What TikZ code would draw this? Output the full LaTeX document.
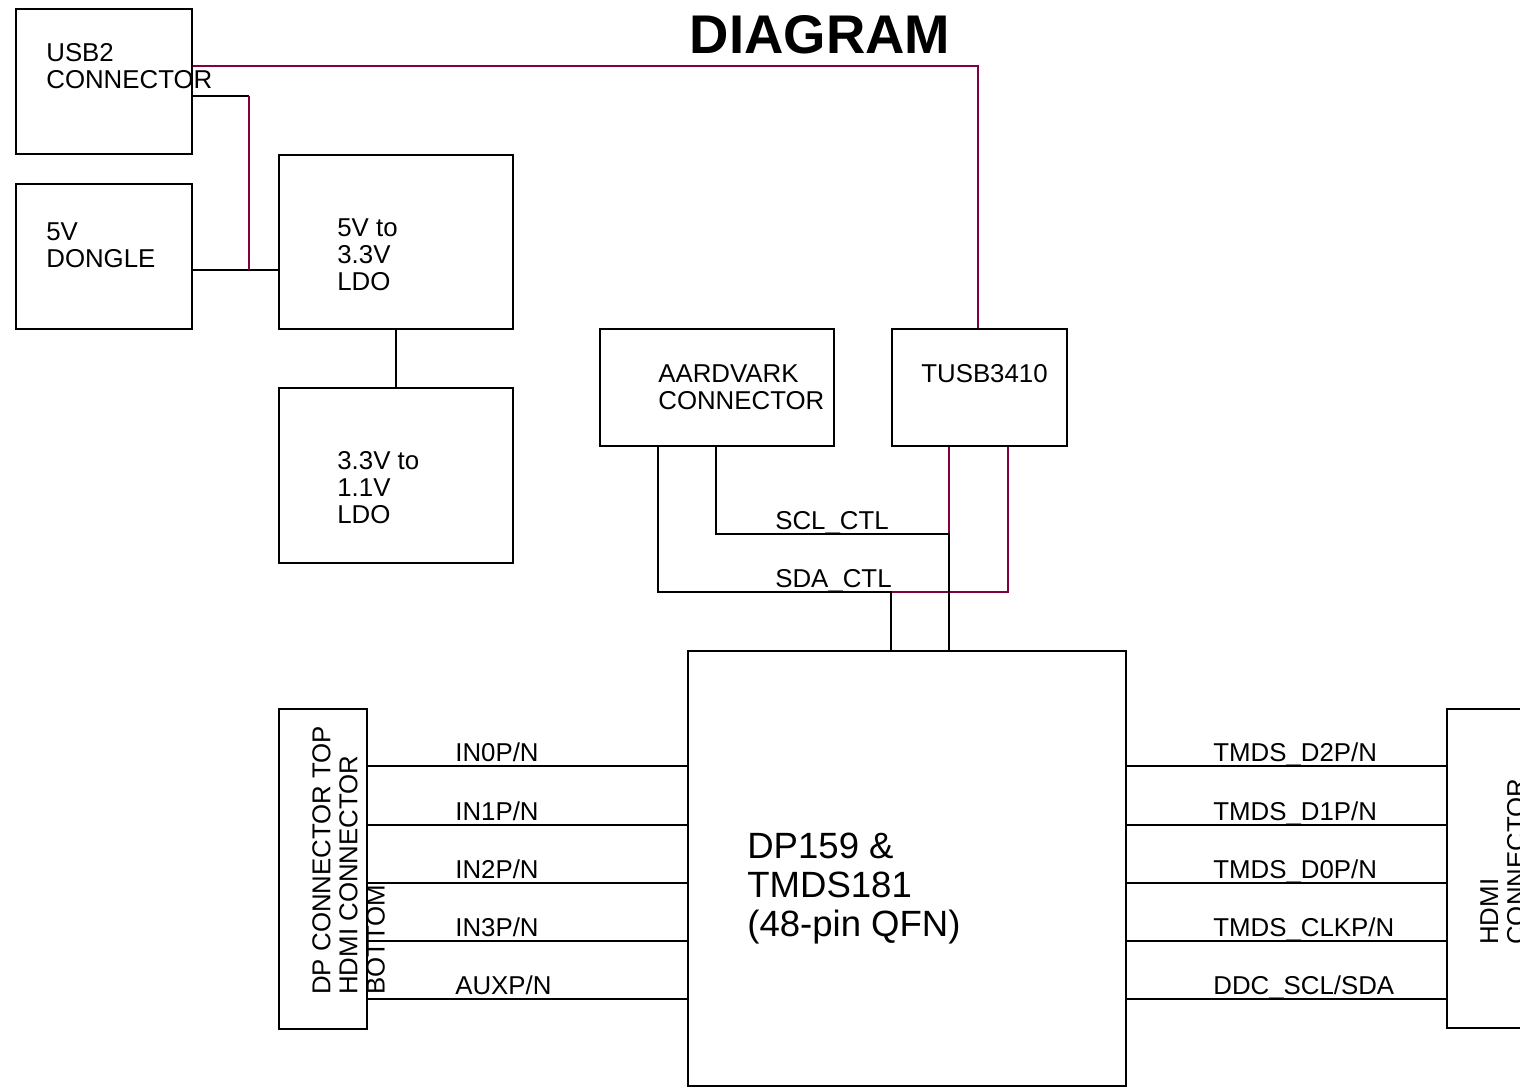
\documentclass[tikz,border=0pt]{standalone}
\usepackage{fontspec}
\setmainfont{Liberation Sans}
\usetikzlibrary{positioning}
\definecolor{usbred}{RGB}{130,0,65}

\tikzset{
  blk/.style={draw, line width=1.3pt, anchor=north west, inner sep=0pt},
  txt/.style={anchor=north west, inner sep=0pt, align=left, font=\fontsize{14.7}{15.4}\selectfont},
  lbl/.style={anchor=base west, inner sep=0pt, font=\fontsize{14.7}{15.4}\selectfont},
  wire/.style={line width=1.3pt},
  usbwire/.style={line width=1.3pt, draw=usbred},
}

\begin{document}
\begin{tikzpicture}[x=0.02cm, y=-0.02cm]
\useasboundingbox (0,0) rectangle (1520,1087);

% title
\node (title) [anchor=north, inner sep=0pt, font=\bfseries\fontsize{31}{34}\selectfont] at (820,15) {DIAGRAM};

% boxes
\node (usb) [blk, minimum width=3.52cm, minimum height=2.9cm] at (15,8) {};
\node (dongle) [blk, minimum width=3.52cm, minimum height=2.9cm] at (15,183) {};
\node (ldoa) [blk, minimum width=4.68cm, minimum height=3.48cm] at (278,154) {};
\node (ldob) [blk, minimum width=4.68cm, minimum height=3.5cm] at (278,387) {};
\node (aard) [blk, minimum width=4.68cm, minimum height=2.34cm] at (599,328) {};
\node (tusb) [blk, minimum width=3.5cm, minimum height=2.34cm] at (891,328) {};
\node (chip) [blk, minimum width=8.76cm, minimum height=8.7cm] at (687,650) {};
\node (dpcon) [blk, minimum width=1.76cm, minimum height=6.4cm] at (278,708) {};
\node (hdmi) [blk, minimum width=1.76cm, minimum height=6.38cm] at (1446,708) {};

% box texts
\node (usbtxt) [txt] at (46,43) {USB2\\CONNECTOR};
\node (dongletxt) [txt] at (46,222) {5V\\DONGLE};
\node (ldoatxt) [txt] at (337,218) {5V to\\3.3V\\LDO};
\node (ldobtxt) [txt] at (337,451) {3.3V to\\1.1V\\LDO};
\node (aardtxt) [txt] at (658,364) {AARDVARK\\CONNECTOR};
\node (tusbtxt) [txt] at (921,364) {TUSB3410};
\node (chiptxt) [txt, font=\fontsize{20.8}{22.1}\selectfont] at (747,833) {DP159 \&\\TMDS181\\(48-pin QFN)};
\node (dptxt) [txt, rotate=90] at (312,995) {DP CONNECTOR TOP\\HDMI CONNECTOR\\BOTTOM};
\node (hdmitxt) [txt, rotate=90] at (1480,945) {HDMI\\CONNECTOR};

% power and usb wiring
\coordinate (usbtap) at (249,96);
\coordinate (pwrjoin) at (249,270);
\coordinate (usbbus) at (978,66);
\draw[wire] (usb.east |- usbtap) -- (usbtap);
\draw[wire] (dongle.east |- pwrjoin) -- (ldoa.west |- pwrjoin);
\draw[usbwire] (usbtap) -- (pwrjoin);
\draw[usbwire] (usb.east |- usbbus) -- (usbbus) -- (usbbus |- tusb.north);
\draw[wire] (ldoa.south) -- (ldob.north);

% control bus
\coordinate (sclbend) at (716,534);
\coordinate (sclend) at (949,534);
\coordinate (sdabend) at (658,592);
\coordinate (sdaend) at (891,592);
\coordinate (tusbsda) at (1008,592);
\draw[usbwire] (tusb.south -| sclend) -- (sclend);
\draw[usbwire] (tusb.south -| tusbsda) -- (tusbsda) -- (sdaend);
\draw[wire] (aard.south -| sclbend) -- (sclbend) -- (sclend) -- (chip.north -| sclend);
\draw[wire] (aard.south -| sdabend) -- (sdabend) -- (sdaend) -- (chip.north -| sdaend);
\node (scllbl) [lbl] at (775,529) {SCL\_CTL};
\node (sdalbl) [lbl] at (775,587) {SDA\_CTL};

% high speed lanes
\foreach \y/\lft/\rgt [count=\i] in {766/{IN0P/N}/{TMDS\_D2P/N}, 825/{IN1P/N}/{TMDS\_D1P/N},
    883/{IN2P/N}/{TMDS\_D0P/N}, 941/{IN3P/N}/{TMDS\_CLKP/N}, 999/{AUXP/N}/{DDC\_SCL/SDA}} {
  \draw[wire] (dpcon.east |- 0,\y) -- (chip.west |- 0,\y);
  \draw[wire] (chip.east |- 0,\y) -- (hdmi.west |- 0,\y);
  \node (inlbl\i) [lbl] at (455,\y-5) {\lft};
  \node (outlbl\i) [lbl] at (1213,\y-5) {\rgt};
}
\end{tikzpicture}
\end{document}
